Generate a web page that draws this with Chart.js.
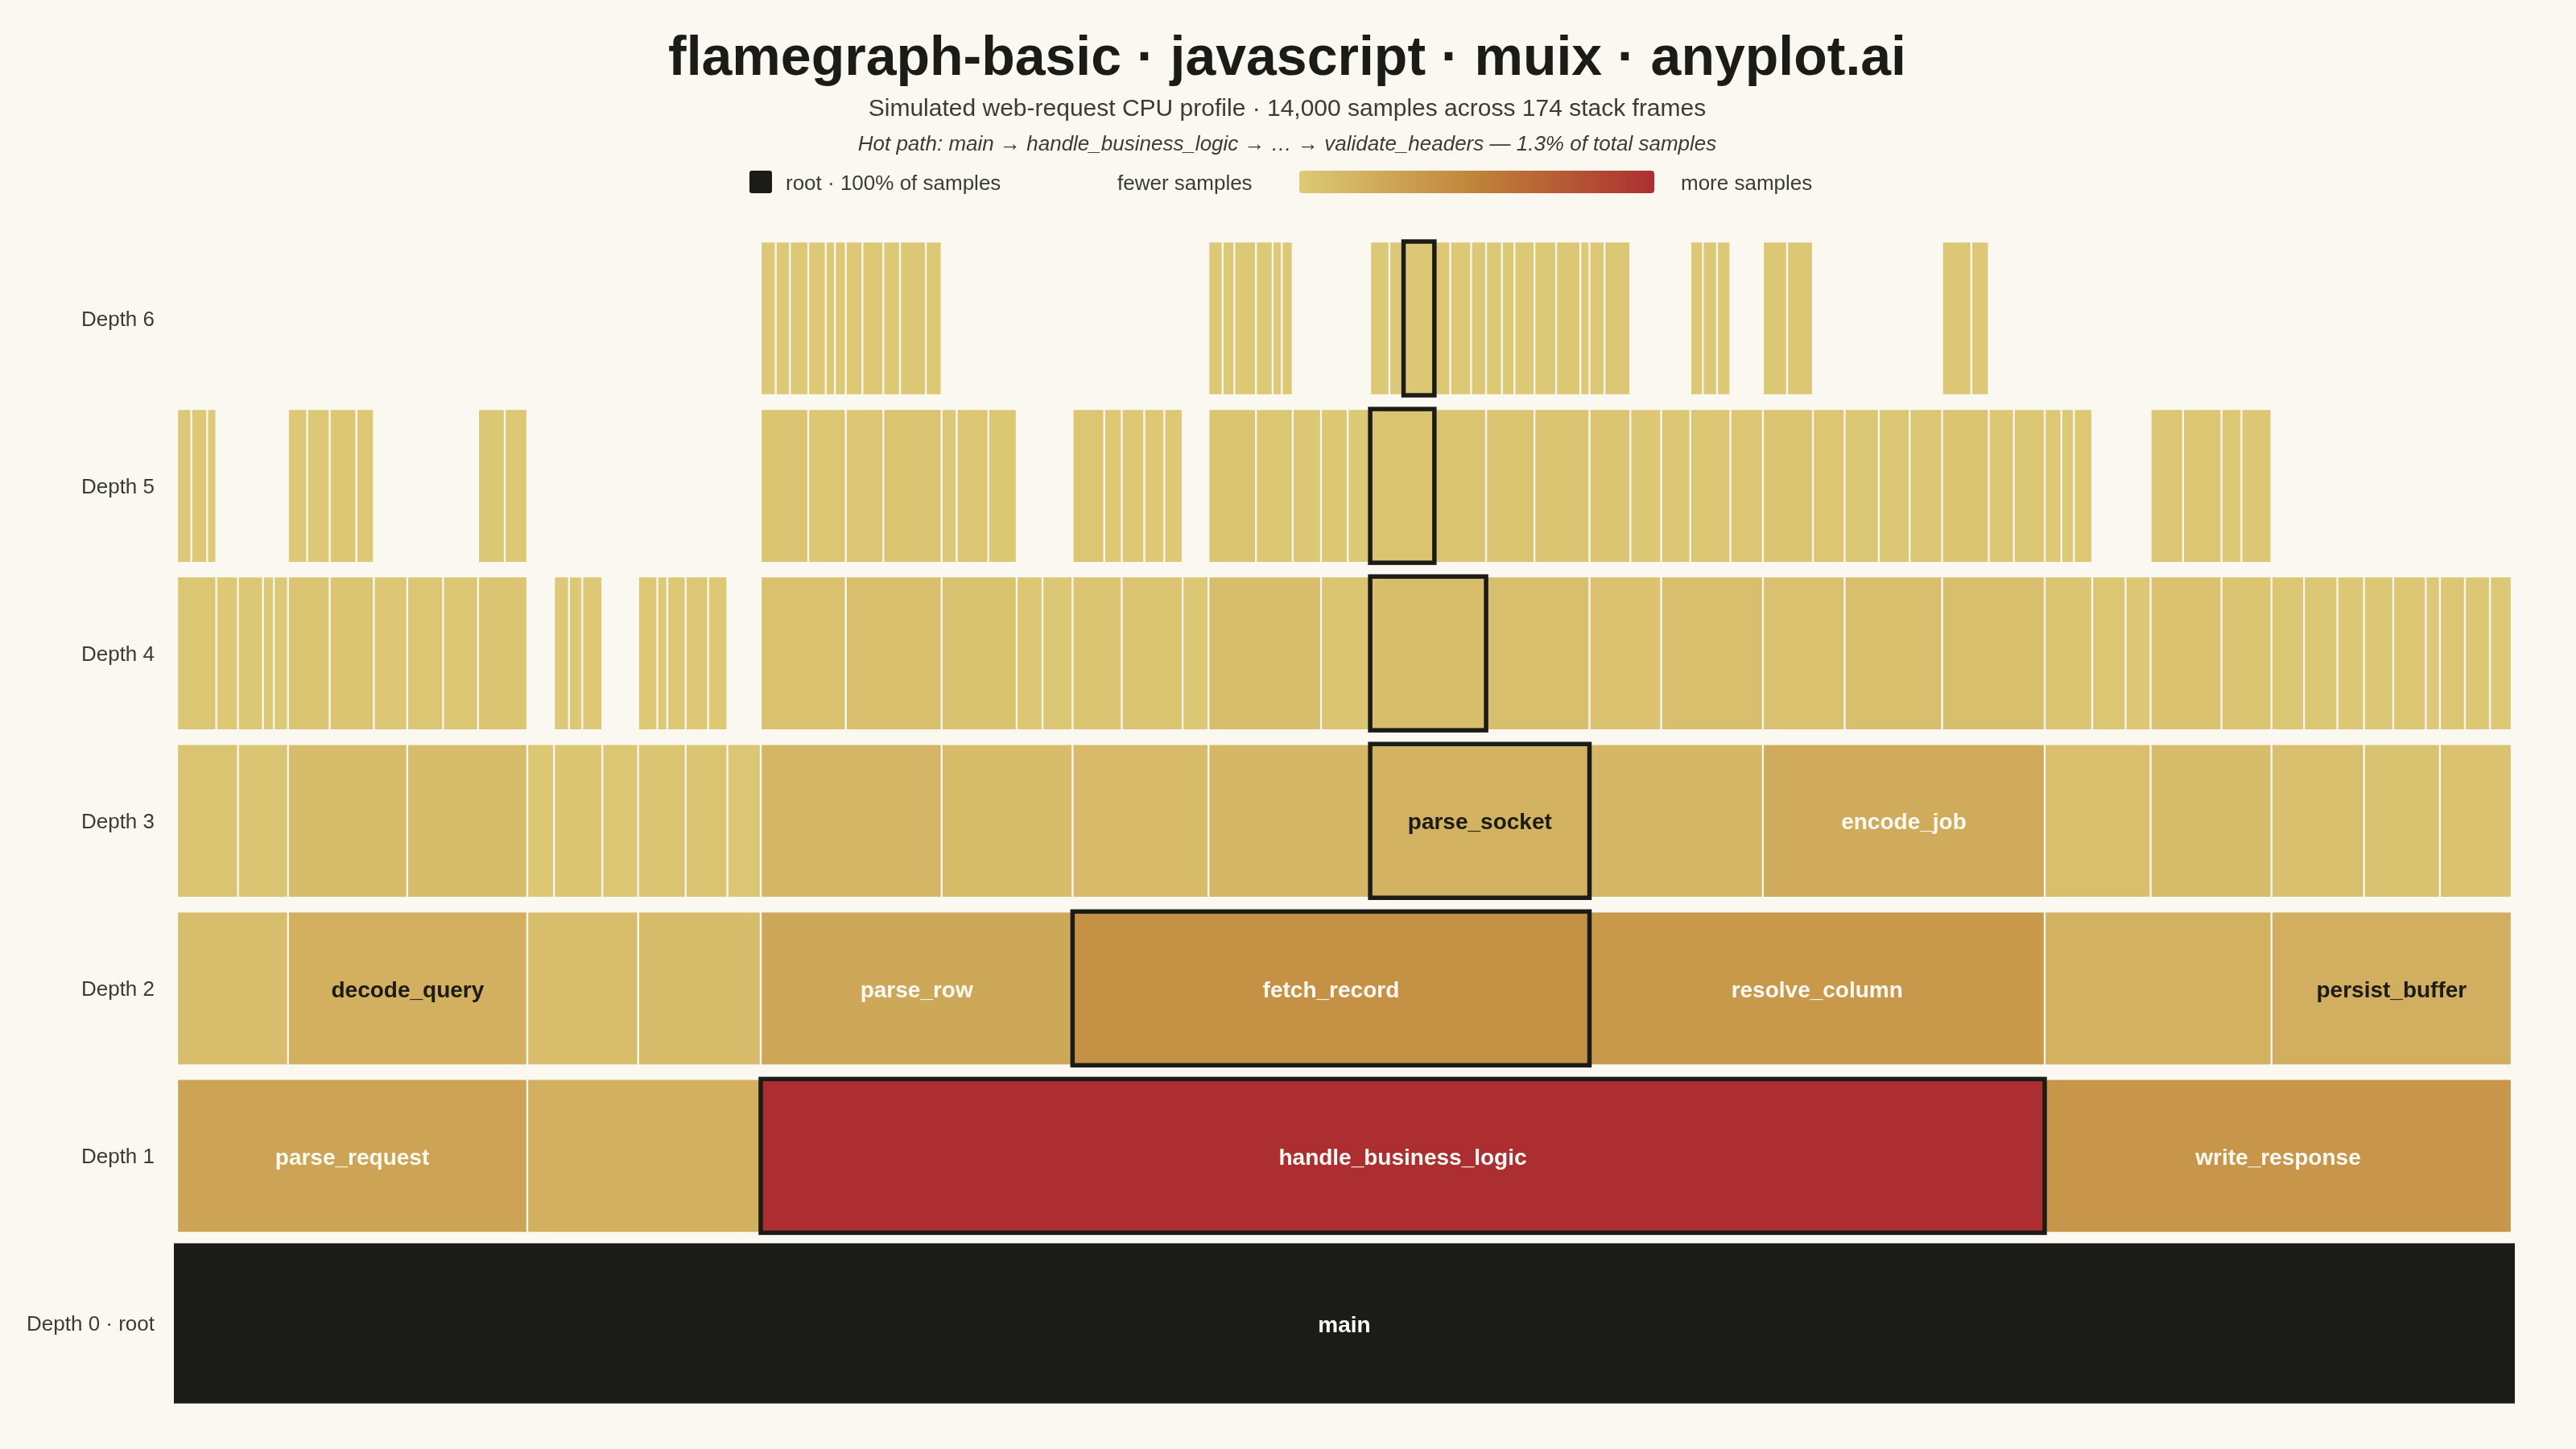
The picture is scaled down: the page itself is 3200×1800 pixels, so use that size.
<!DOCTYPE html>
<html>
<head>
<meta charset="utf-8">
<title>flamegraph-basic · javascript · muix · anyplot.ai</title>
<script src="https://cdn.jsdelivr.net/npm/chart.js@4.4.1/dist/chart.umd.min.js"></script>
<style>
  html, body { margin: 0; padding: 0; background: #faf8f1; }
  #wrap { width: 3200px; height: 1800px; position: relative; }
</style>
</head>
<body>
<div id="wrap"><canvas id="flame"></canvas></div>
<script>
const totalSamples = 14000;
const depthLabels = ['Depth 6', 'Depth 5', 'Depth 4', 'Depth 3', 'Depth 2', 'Depth 1', 'Depth 0 · root'];

// frames per depth: [start sample, end sample, name]
const depth0 = [[0, 14000, 'main']];
const depth1 = [[0, 2100, 'parse_request'], [2100, 3500, ''], [3500, 11200, 'handle_business_logic'], [11200, 14000, 'write_response']];
const depth2 = [
  [0, 665, ''], [665, 2100, 'decode_query'], [2100, 2765, ''], [2765, 3500, ''],
  [3500, 5370, 'parse_row'], [5370, 8470, 'fetch_record'], [8470, 11200, 'resolve_column'],
  [11200, 12560, ''], [12560, 14000, 'persist_buffer']
];
const depth3 = [
  [0, 365, ''], [365, 665, ''], [665, 1380, ''], [1380, 2100, ''], [2100, 2260, ''], [2260, 2550, ''],
  [2550, 2765, ''], [2765, 3050, ''], [3050, 3300, ''], [3300, 3500, ''], [3500, 4585, ''], [4585, 5370, ''],
  [5370, 6185, ''], [6185, 7155, ''], [7155, 8470, 'parse_socket'], [8470, 9510, ''], [9510, 11200, 'encode_job'],
  [11200, 11835, ''], [11835, 12560, ''], [12560, 13115, ''], [13115, 13570, ''], [13570, 14000, '']
];
const depth4 = [
  [0, 235, ''], [235, 365, ''], [365, 515, ''], [515, 580, ''], [580, 665, ''], [665, 915, ''], [915, 1180, ''],
  [1180, 1380, ''], [1380, 1595, ''], [1595, 1805, ''], [1805, 2100, ''], [2260, 2350, ''], [2350, 2430, ''],
  [2430, 2550, ''], [2765, 2880, ''], [2880, 2940, ''], [2940, 3050, ''], [3050, 3185, ''], [3185, 3300, ''],
  [3500, 4010, ''], [4010, 4585, ''], [4585, 5035, ''], [5035, 5190, ''], [5190, 5370, ''], [5370, 5665, ''],
  [5665, 6030, ''], [6030, 6185, ''], [6185, 6860, ''], [6860, 7155, ''], [7155, 7850, ''], [7850, 8470, ''],
  [8470, 8900, ''], [8900, 9510, ''], [9510, 10000, ''], [10000, 10585, ''], [10585, 11200, ''], [11200, 11485, ''],
  [11485, 11685, ''], [11685, 11835, ''], [11835, 12260, ''], [12260, 12560, ''], [12560, 12755, ''], [12755, 12955, ''],
  [12955, 13115, ''], [13115, 13290, ''], [13290, 13485, ''], [13485, 13570, ''], [13570, 13720, ''], [13720, 13870, ''],
  [13870, 14000, '']
];
const depth5 = [
  [0, 85, ''], [85, 180, ''], [180, 235, ''], [665, 780, ''], [780, 915, ''], [915, 1075, ''], [1075, 1180, ''],
  [1805, 1965, ''], [1965, 2100, ''],
  [3500, 3785, ''], [3785, 4010, ''], [4010, 4235, ''], [4235, 4585, ''], [4585, 4675, ''], [4675, 4865, ''], [4865, 5035, ''],
  [5370, 5560, ''], [5560, 5665, ''], [5665, 5800, ''], [5800, 5920, ''], [5920, 6030, ''],
  [6185, 6470, ''], [6470, 6690, ''], [6690, 6860, ''], [6860, 7020, ''], [7020, 7155, ''],
  [7155, 7540, ''], [7540, 7850, ''], [7850, 8140, ''], [8140, 8470, ''], [8470, 8715, ''], [8715, 8900, ''],
  [8900, 9075, ''], [9075, 9315, ''], [9315, 9510, ''], [9510, 9810, ''], [9810, 10000, ''],
  [10000, 10205, ''], [10205, 10390, ''], [10390, 10585, ''], [10585, 10865, ''], [10865, 11015, ''], [11015, 11200, ''],
  [11200, 11300, ''], [11300, 11375, ''], [11375, 11485, ''], [11835, 12030, ''], [12030, 12260, ''],
  [12260, 12380, ''], [12380, 12560, '']
];
const depth6 = [
  [3500, 3590, ''], [3590, 3675, ''], [3675, 3785, ''], [3785, 3890, ''], [3890, 3945, ''], [3945, 4010, ''],
  [4010, 4110, ''], [4110, 4235, ''], [4235, 4335, ''], [4335, 4490, ''], [4490, 4585, ''],
  [6185, 6270, ''], [6270, 6340, ''], [6340, 6470, ''], [6470, 6570, ''], [6570, 6625, ''], [6625, 6690, ''],
  [7155, 7270, ''], [7270, 7355, ''], [7355, 7540, 'validate_headers'],
  [7540, 7635, ''], [7635, 7760, ''], [7760, 7850, ''], [7850, 7945, ''], [7945, 8020, ''], [8020, 8140, ''],
  [8140, 8270, ''], [8270, 8415, ''], [8415, 8470, ''], [8470, 8560, ''], [8560, 8715, ''],
  [9075, 9150, ''], [9150, 9235, ''], [9235, 9315, ''], [9510, 9655, ''], [9655, 9810, ''],
  [10585, 10760, ''], [10760, 10865, '']
];
const hotLeaf = 'validate_headers';

const bgColor = '#faf8f1';
const ink = '#1b1b17';
const muted = '#3b3b37';
const rampStops = [[221, 202, 119], [191, 131, 57], [173, 46, 49]];

// flatten frames
const frames = [];
[depth0, depth1, depth2, depth3, depth4, depth5, depth6].forEach((row, d) => {
  row.forEach(f => frames.push({ depth: d, start: f[0], end: f[1], name: f[2] }));
});

const maxSamples = Math.max(...frames.filter(f => f.depth > 0).map(f => f.end - f.start));

const leaf = frames.find(f => f.name === hotLeaf);
const hot = frames.map(f => f.depth <= leaf.depth && f.start <= leaf.start && f.end >= leaf.end);

function ramp(t) {
  const seg = t < 0.5 ? 0 : 1;
  const u = t < 0.5 ? t / 0.5 : (t - 0.5) / 0.5;
  const a = rampStops[seg], b = rampStops[seg + 1];
  const c = a.map((v, i) => Math.round(v + (b[i] - v) * u));
  return 'rgb(' + c.join(',') + ')';
}
function share(f) { return (f.end - f.start) / maxSamples; }

const headerPlugin = {
  id: 'header',
  afterDraw(chart) {
    const ctx = chart.ctx;
    ctx.save();
    ctx.textAlign = 'center';
    ctx.textBaseline = 'alphabetic';
    ctx.fillStyle = ink;
    ctx.font = 'bold 68px "Liberation Sans", Arial, sans-serif';
    ctx.fillText('flamegraph-basic · javascript · muix · anyplot.ai', 1599, 93);

    ctx.fillStyle = muted;
    ctx.font = '30px "Liberation Sans", Arial, sans-serif';
    ctx.fillText('Simulated web-request CPU profile · 14,000 samples across ' + frames.length + ' stack frames', 1599, 144);

    const pct = ((leaf.end - leaf.start) / totalSamples * 100).toFixed(1);
    ctx.font = 'italic 26px "Liberation Sans", Arial, sans-serif';
    ctx.fillText('Hot path: main → handle_business_logic → … → ' + hotLeaf + ' — ' + pct + '% of total samples', 1599, 187);

    // legend
    ctx.textAlign = 'left';
    ctx.font = '26px "Liberation Sans", Arial, sans-serif';
    ctx.fillStyle = ink;
    ctx.beginPath();
    ctx.roundRect(931, 212, 28, 28, 3);
    ctx.fill();
    ctx.fillStyle = muted;
    ctx.fillText('root · 100% of samples', 976, 236);
    ctx.fillText('fewer samples', 1388, 236);
    const g = ctx.createLinearGradient(1614, 0, 2055, 0);
    g.addColorStop(0, ramp(0));
    g.addColorStop(0.5, ramp(0.5));
    g.addColorStop(1, ramp(1));
    ctx.fillStyle = g;
    ctx.beginPath();
    ctx.roundRect(1614, 212, 441, 28, 4);
    ctx.fill();
    ctx.fillStyle = muted;
    ctx.fillText('more samples', 2088, 236);
    ctx.restore();
  }
};

const framePlugin = {
  id: 'frameMarks',
  afterDatasetsDraw(chart) {
    const ctx = chart.ctx;
    const meta = chart.getDatasetMeta(0);
    ctx.save();
    meta.data.forEach((bar, i) => {
      const f = frames[i];
      const p = bar.getProps(['x', 'y', 'base', 'height'], true);
      const left = Math.min(p.x, p.base), w = Math.abs(p.x - p.base);
      const top = p.y - p.height / 2;
      if (f.depth === 0) {
        ctx.strokeStyle = ink;
        ctx.lineWidth = 8;
        ctx.strokeRect(left, top, w, p.height);
      } else if (hot[i]) {
        ctx.strokeStyle = ink;
        ctx.lineWidth = 5.5;
        ctx.strokeRect(left, top, w, p.height);
      }
    });
    ctx.font = 'bold 28px "Liberation Sans", Arial, sans-serif';
    ctx.textAlign = 'center';
    ctx.textBaseline = 'middle';
    meta.data.forEach((bar, i) => {
      const f = frames[i];
      if (!f.name) return;
      const p = bar.getProps(['x', 'y', 'base'], true);
      const w = Math.abs(p.x - p.base);
      if (ctx.measureText(f.name).width + 24 > w) return;
      ctx.fillStyle = (f.depth === 0 || share(f) >= 0.2) ? '#fdfaf3' : ink;
      ctx.fillText(f.name, (p.x + p.base) / 2, p.y + 3);
    });
    ctx.restore();
  }
};

new Chart(document.getElementById('flame'), {
  type: 'bar',
  data: {
    labels: depthLabels,
    datasets: [{
      data: frames.map(f => ({ y: depthLabels[6 - f.depth], x: [f.start, f.end] })),
      backgroundColor: c => {
        const f = frames[c.dataIndex];
        if (!f) return ink;
        return f.depth === 0 ? ink : ramp(share(f));
      },
      borderColor: c => (frames[c.dataIndex] && frames[c.dataIndex].depth === 0) ? ink : bgColor,
      borderWidth: 1.5,
      borderSkipped: false,
      barThickness: 191
    }]
  },
  options: {
    indexAxis: 'y',
    responsive: true,
    maintainAspectRatio: false,
    animation: false,
    devicePixelRatio: 1,
    layout: { padding: { top: 291.5, bottom: 52, right: 80, left: 0 } },
    plugins: {
      legend: { display: false },
      tooltip: { enabled: false },
      title: { display: false }
    },
    scales: {
      x: { type: 'linear', min: 0, max: totalSamples, display: false },
      y: {
        type: 'category',
        grid: { display: false, drawTicks: false },
        border: { display: false },
        ticks: {
          color: muted,
          padding: 28,
          labelOffset: 2,
          font: { size: 26, family: '"Liberation Sans", Arial, sans-serif' }
        },
        afterFit(scale) { scale.width = 220; }
      }
    }
  },
  plugins: [headerPlugin, framePlugin]
});
</script>
</body>
</html>
